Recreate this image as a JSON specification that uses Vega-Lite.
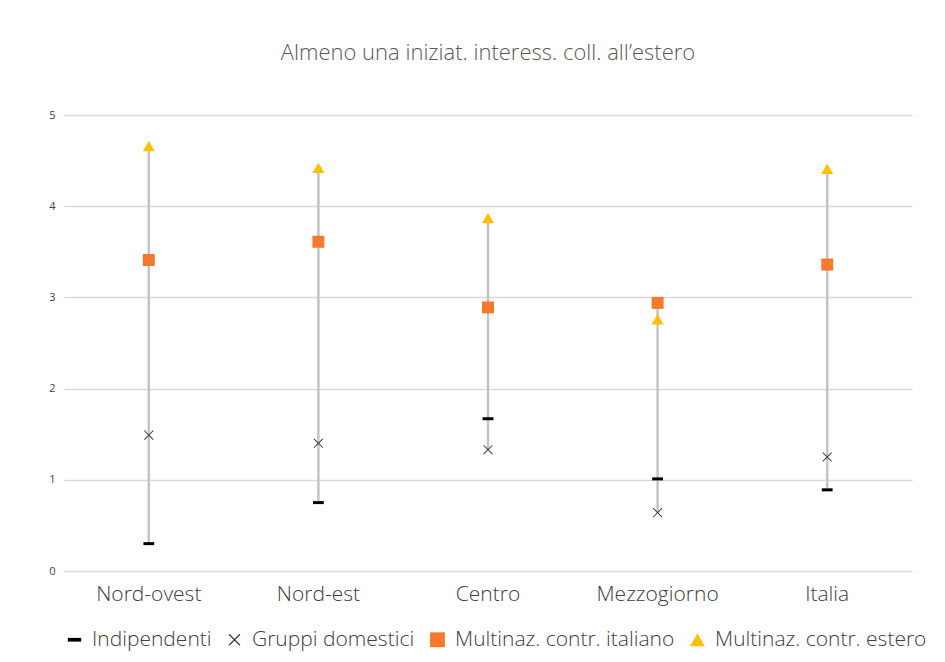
{
  "$schema": "https://vega.github.io/schema/vega-lite/v6.json",
  "width": 848,
  "height": 456,
  "autosize": {"type": "none"},
  "padding": {"left": 64, "top": 115, "right": 33, "bottom": 91},
  "background": "white",
  "title": {
    "text": "Almeno una iniziat. interess. coll. all’estero",
    "font": "Open Sans",
    "fontSize": 22,
    "fontWeight": 300,
    "color": "#595959",
    "anchor": "middle",
    "offset": 44
  },
  "data": {
    "values": [
      {"region": "Nord-ovest", "series": "Indipendenti", "value": 0.30},
      {"region": "Nord-ovest", "series": "Gruppi domestici", "value": 1.49},
      {"region": "Nord-ovest", "series": "Multinaz. contr. italiano", "value": 3.41},
      {"region": "Nord-ovest", "series": "Multinaz. contr. estero", "value": 4.66},
      {"region": "Nord-est", "series": "Indipendenti", "value": 0.75},
      {"region": "Nord-est", "series": "Gruppi domestici", "value": 1.40},
      {"region": "Nord-est", "series": "Multinaz. contr. italiano", "value": 3.61},
      {"region": "Nord-est", "series": "Multinaz. contr. estero", "value": 4.42},
      {"region": "Centro", "series": "Indipendenti", "value": 1.67},
      {"region": "Centro", "series": "Gruppi domestici", "value": 1.33},
      {"region": "Centro", "series": "Multinaz. contr. italiano", "value": 2.89},
      {"region": "Centro", "series": "Multinaz. contr. estero", "value": 3.87},
      {"region": "Mezzogiorno", "series": "Indipendenti", "value": 1.01},
      {"region": "Mezzogiorno", "series": "Gruppi domestici", "value": 0.64},
      {"region": "Mezzogiorno", "series": "Multinaz. contr. italiano", "value": 2.94},
      {"region": "Mezzogiorno", "series": "Multinaz. contr. estero", "value": 2.76},
      {"region": "Italia", "series": "Indipendenti", "value": 0.89},
      {"region": "Italia", "series": "Gruppi domestici", "value": 1.25},
      {"region": "Italia", "series": "Multinaz. contr. italiano", "value": 3.36},
      {"region": "Italia", "series": "Multinaz. contr. estero", "value": 4.41}
    ]
  },
  "encoding": {
    "x": {
      "field": "region",
      "type": "nominal",
      "sort": null,
      "title": null,
      "axis": {
        "labelAngle": 0,
        "labelFont": "Open Sans",
        "labelFontSize": 21,
        "labelFontWeight": 300,
        "labelColor": "#404040",
        "labelPadding": 12,
        "ticks": false,
        "domain": false,
        "grid": false
      }
    }
  },
  "layer": [
    {
      "mark": {"type": "rule", "color": "#c4c4c4", "strokeWidth": 2.5},
      "encoding": {
        "y": {"aggregate": "min", "field": "value", "type": "quantitative"},
        "y2": {"aggregate": "max", "field": "value"}
      }
    },
    {
      "mark": {"type": "point", "filled": true, "opacity": 1, "size": 144},
      "encoding": {
        "y": {
          "field": "value",
          "type": "quantitative",
          "title": null,
          "scale": {"domain": [0, 5], "nice": false},
          "axis": {
            "values": [0, 1, 2, 3, 4, 5],
            "format": "d",
            "labelFont": "Open Sans",
            "labelFontSize": 11,
            "labelColor": "#404040",
            "labelPadding": 9,
            "ticks": false,
            "domain": false,
            "gridColor": "#d9d9d9",
            "gridWidth": 1.5
          }
        },
        "color": {
          "field": "series",
          "type": "nominal",
          "title": null,
          "scale": {
            "domain": ["Indipendenti", "Gruppi domestici", "Multinaz. contr. italiano", "Multinaz. contr. estero"],
            "range": ["#000000", "#404040", "#F7792B", "#FFC000"]
          },
          "legend": {
            "orient": "bottom",
            "direction": "horizontal",
            "labelFont": "Open Sans",
            "labelFontSize": 21,
            "labelFontWeight": 300,
            "labelColor": "#404040",
            "labelLimit": 0,
            "symbolSize": 220,
            "symbolOffset": 0,
            "columnPadding": 12,
            "labelOffset": 7,
            "offset": 25
          }
        },
        "shape": {
          "field": "series",
          "type": "nominal",
          "scale": {
            "domain": ["Indipendenti", "Gruppi domestici", "Multinaz. contr. italiano", "Multinaz. contr. estero"],
            "range": [
              "M-0.9,-0.25L0.9,-0.25L0.9,0.25L-0.9,0.25Z",
              "M-0.8,-0.68L-0.68,-0.8L0,-0.12L0.68,-0.8L0.8,-0.68L0.12,0L0.8,0.68L0.68,0.8L0,0.12L-0.68,0.8L-0.8,0.68L-0.12,0Z",
              "square",
              "triangle-up"
            ]
          }
        }
      }
    }
  ],
  "config": {
    "view": {"stroke": null}
  }
}
